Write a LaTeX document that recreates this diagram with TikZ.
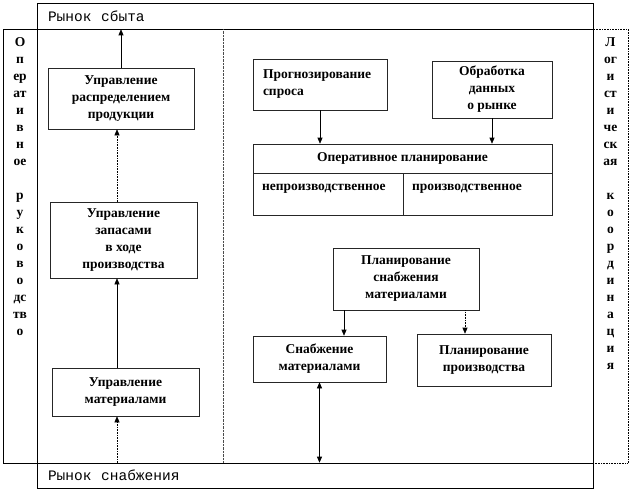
\documentclass[tikz,border=0pt]{standalone}
\usepackage{fontspec}
\setmainfont{Liberation Serif}
\newfontfamily\marketfont{Liberation Mono}
\usetikzlibrary{arrows.meta,positioning}

\begin{document}
\begin{tikzpicture}[x=1pt,y=-1pt,
    box/.style={draw=black!85,line width=0.6pt,inner sep=0pt,align=center,font=\bfseries\fontsize{13.5}{17}\selectfont},
    cellbox/.style={box,minimum height=42pt,inner xsep=9pt,align=left,text depth=14pt},
    band/.style={draw,line width=0.6pt,minimum width=556pt,inner xsep=11pt,text width=534pt,align=left,font=\marketfont\fontsize{14.5}{17}\selectfont},
    panel/.style={draw,line width=0.6pt,minimum height=434pt,inner sep=0pt},
    vtext/.style={anchor=north,inner sep=0pt,align=center,font=\bfseries\fontsize{13.5}{17}\selectfont},
    arr/.style={line width=0.6pt,-{Triangle[length=6pt,width=5pt]}},
    dotarr/.style={arr,densely dotted},
    dblarr/.style={line width=0.6pt,{Triangle[length=6pt,width=5pt]}-{Triangle[length=6pt,width=5pt]}}]
    \useasboundingbox (0,0) rectangle (631,492);
    \node[band,minimum height=26pt](sbyt)at(315,16){Рынок\ \ сбыта};
    \node[band,minimum height=25pt](rsnab)at(315,475.5){Рынок\ \ снабжения};
    \node[panel,minimum width=34pt](opruk)at(20,246){};
    \node[panel,densely dotted,minimum width=35pt](logk)at(610.5,246){};
    \draw[line width=0.6pt](sbyt.south east)--(rsnab.north east);
    \node[vtext](opruk_t)at([yshift=-9pt]opruk.north){О\\п\\ер\\ат\\и\\в\\н\\ое\\[17pt]р\\у\\к\\о\\в\\о\\дс\\тв\\о};
    \node[vtext](logk_t)at([yshift=-9pt]logk.north){Л\\ог\\и\\ст\\и\\че\\ск\\ая\\[17pt]к\\о\\о\\р\\д\\и\\н\\а\\ц\\и\\я};
    \coordinate(mid)at(223,0);
    \draw[densely dotted,black!70](sbyt.south -| mid)--(rsnab.north -| mid);
    \node[box,minimum width=146pt,minimum height=61pt](upr_rasp)at(121,98.5){Управление\\распределением\\продукции};
    \node[box,minimum width=147pt,minimum height=76pt](upr_zap)at(123.5,240){Управление\\запасами\\в ходе\\производства};
    \node[box,minimum width=147pt,minimum height=48pt](upr_mat)at(125.5,392){Управление\\материалами};
    \node[box,minimum height=51pt,inner xsep=10pt,text width=114pt,align=left](prognoz)at(320,84.5){Прогнозирование\\спроса};
    \node[box,minimum width=120pt,minimum height=57pt](obrab)at(492,89.5){Обработка\\данных\\о рынке};
    \node[box,minimum width=299pt,minimum height=29pt](oper)at(402.5,158.5){Оперативное планирование};
    \node[cellbox,anchor=north west,text width=132pt](neproizv)at(oper.south west){непроизводственное};
    \node[cellbox,anchor=north east,text width=131pt](proizv)at(oper.south east){производственное};
    \node[box,minimum width=146pt,minimum height=62pt](plan_snab)at(406,279){Планирование\\снабжения\\материалами};
    \node[box,minimum width=133pt,minimum height=46pt](snab)at(319.5,359){Снабжение\\материалами};
    \node[box,minimum width=134pt,minimum height=52pt](plan_pr)at(484,360){Планирование\\производства};
    \coordinate(axl)at(117,0);
    \coordinate(axa)at(344,0);
    \coordinate(axb)at(465,0);
    \draw[arr](upr_rasp.north)--(upr_rasp.north |- sbyt.south);
    \draw[dotarr](upr_zap.north -| axl)--(upr_rasp.south -| axl);
    \draw[arr](upr_mat.north -| axl)--(upr_zap.south -| axl);
    \draw[dotarr](rsnab.north -| axl)--(upr_mat.south -| axl);
    \draw[arr](prognoz.south)--(prognoz.south |- oper.north);
    \draw[arr](obrab.south)--(obrab.south |- oper.north);
    \draw[arr](plan_snab.south -| axa)--(snab.north -| axa);
    \draw[dotarr](plan_snab.south -| axb)--(plan_pr.north -| axb);
    \draw[dblarr](snab.south)--(snab.south |- rsnab.north);
\end{tikzpicture}
\end{document}
